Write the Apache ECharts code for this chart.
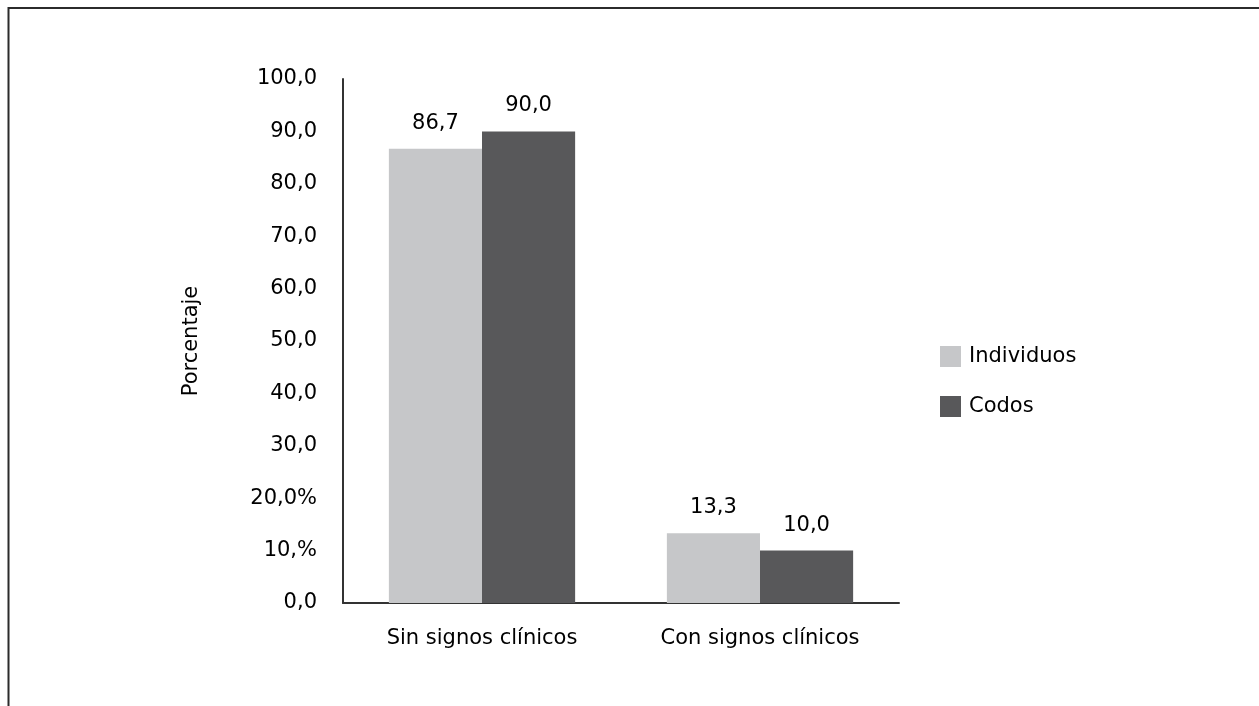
<!DOCTYPE html>
<html>
<head>
<meta charset="utf-8">
<script src="https://cdn.jsdelivr.net/npm/echarts@6/dist/echarts.min.js"></script>
<style>
  html, body { margin: 0; padding: 0; background: #fff; }
  #chart { width: 1259px; height: 706px; }
</style>
</head>
<body>
<div id="chart"></div>
<script>
// Porcentaje de individuos y codos según presencia de signos clínicos
const categories = ['Sin signos clínicos', 'Con signos clínicos'];
const seriesNames = ['Individuos', 'Codos'];
const individuos = [86.7, 13.3];
const codos = [90.0, 10.0];
// Etiquetas del eje Y tal como aparecen en la figura original
const yTickLabels = {0: '0,0', 10: '10,%', 20: '20,0%', 30: '30,0', 40: '40,0', 50: '50,0',
  60: '60,0', 70: '70,0', 80: '80,0', 90: '90,0', 100: '100,0'};

const FONT = 'DejaVu Sans';
const fmt = v => v.toFixed(1).replace('.', ',');

const chart = echarts.init(document.getElementById('chart'), null, { renderer: 'canvas' });
chart.setOption({
  backgroundColor: '#ffffff',
  animation: false,
  textStyle: { fontFamily: FONT, color: '#000' },
  graphic: [{
    type: 'rect',
    shape: { x: 8.5, y: 8, width: 1300, height: 800 },
    style: { fill: 'none', stroke: '#2b2b2b', lineWidth: 2 },
    silent: true
  }],
  legend: {
    orient: 'vertical',
    left: 935,
    top: 341,
    itemWidth: 21,
    itemHeight: 21,
    itemGap: 29,
    icon: 'rect',
    textStyle: { fontFamily: FONT, fontSize: 21, color: '#000', padding: [0, 0, 0, 3] },
    data: seriesNames
  },
  grid: { left: 343, top: 79, width: 556, height: 524, containLabel: false },
  xAxis: {
    type: 'category',
    data: categories,
    axisLine: { lineStyle: { color: '#333', width: 2 } },
    axisTick: { show: false },
    axisLabel: { fontFamily: FONT, fontSize: 21, color: '#000', margin: 25 }
  },
  yAxis: {
    type: 'value',
    min: 0,
    max: 100,
    interval: 10,
    name: 'Porcentaje',
    nameLocation: 'middle',
    nameGap: 141,
    nameTextStyle: { fontFamily: FONT, fontSize: 21, color: '#000' },
    axisLine: { show: true, lineStyle: { color: '#333', width: 2 } },
    axisTick: { show: false },
    splitLine: { show: false },
    axisLabel: {
      fontFamily: FONT, fontSize: 21, color: '#000', margin: 26,
      formatter: v => yTickLabels[v] !== undefined ? yTickLabels[v] : fmt(v)
    }
  },
  series: [
    {
      name: seriesNames[0],
      type: 'bar',
      data: individuos,
      barGap: '0%',
      barCategoryGap: '33%',
      itemStyle: { color: '#c6c7c9' },
      label: {
        show: true, position: 'top', distance: 15,
        fontFamily: FONT, fontSize: 21, color: '#000',
        formatter: p => fmt(p.value)
      }
    },
    {
      name: seriesNames[1],
      type: 'bar',
      data: codos,
      barGap: '0%',
      barCategoryGap: '33%',
      itemStyle: { color: '#58585a' },
      label: {
        show: true, position: 'top', distance: 15,
        fontFamily: FONT, fontSize: 21, color: '#000',
        formatter: p => fmt(p.value)
      }
    }
  ]
});
</script>
</body>
</html>
